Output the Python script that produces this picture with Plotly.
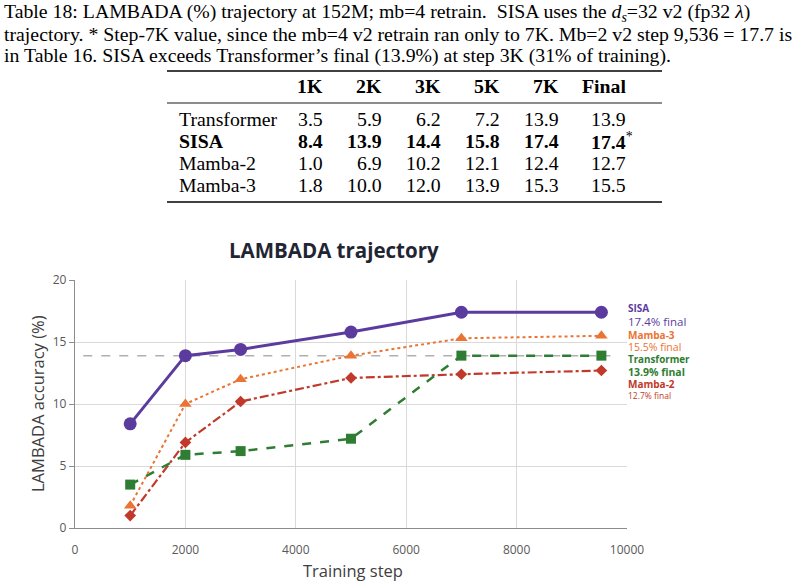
import plotly.graph_objects as go

# ---- data ----
steps = [1000, 2000, 3000, 5000, 7000, 9536]
sisa = [8.4, 13.9, 14.4, 15.8, 17.4, 17.4]
mamba3 = [1.8, 10.0, 12.0, 13.9, 15.3, 15.5]
transformer = [3.5, 5.9, 6.2, 7.2, 13.9, 13.9]
mamba2 = [1.0, 6.9, 10.2, 12.1, 12.4, 12.7]
ref_x = [150, 9700]
ref_y = [13.9, 13.9]

table_cols = ["1K", "2K", "3K", "5K", "7K", "Final"]
table_rows = ["Transformer", "SISA", "Mamba-2", "Mamba-3"]
table_vals = [
    ["3.5", "5.9", "6.2", "7.2", "13.9", "13.9"],
    ["8.4", "13.9", "14.4", "15.8", "17.4", "17.4*"],
    ["1.0", "6.9", "10.2", "12.1", "12.4", "12.7"],
    ["1.8", "10.0", "12.0", "13.9", "15.3", "15.5"],
]

x_ticks = [0, 2000, 4000, 6000, 8000, 10000]
y_ticks = [0, 5, 10, 15, 20]

C_SISA = "#5b3c9e"
C_M3 = "#ea7434"
C_TR = "#2e7d32"
C_M2 = "#c0392b"

W, H = 806, 586
L, R, T, B = 75, 627, 280, 528  # plot area pixels


def px(x):
    return (x - L) / (R - L)


def py(y):
    return (B - y) / (B - T)


fig = go.Figure()
fig.add_trace(go.Scatter(x=ref_x, y=ref_y, mode="lines",
                         line=dict(color="#b0b0b0", width=1.5, dash="dash"),
                         showlegend=False, hoverinfo="skip"))
fig.add_trace(go.Scatter(x=steps, y=mamba2, mode="lines+markers", name="Mamba-2",
                         line=dict(color=C_M2, width=2.2, dash="dashdot"),
                         marker=dict(symbol="diamond", size=9, color=C_M2)))
fig.add_trace(go.Scatter(x=steps, y=transformer, mode="lines+markers", name="Transformer",
                         line=dict(color=C_TR, width=2.5, dash="dash"),
                         marker=dict(symbol="square", size=10, color=C_TR)))
fig.add_trace(go.Scatter(x=steps, y=mamba3, mode="lines+markers", name="Mamba-3",
                         line=dict(color=C_M3, width=2, dash="dot"),
                         marker=dict(symbol="triangle-up", size=11, color=C_M3)))
fig.add_trace(go.Scatter(x=steps, y=sisa, mode="lines+markers", name="SISA",
                         line=dict(color=C_SISA, width=3),
                         marker=dict(symbol="circle", size=13, color=C_SISA)))

ann = []
serif = "Liberation Serif"
FS = 19.8
# caption
sp = " &nbsp;"
cap = [
    "Table 18: LAMBADA (%) trajectory at 152M; mb=4 retrain." + sp + "SISA uses the <i>d</i><sub><i>s</i></sub>=32 v2 (fp32 <i>λ</i>)",
    "trajectory. * Step-7K value, since the mb=4 v2 retrain ran only to 7K. Mb=2 v2 step 9,536 = 17.7 is",
    "in Table 16. SISA exceeds Transformer’s final (13.9%) at step 3K (31% of training).",
]
for i, line in enumerate(cap):
    ann.append(dict(x=px(2), y=py(12 + 21.5 * i), xref="paper", yref="paper",
                    text=line, showarrow=False, xanchor="left", yanchor="middle",
                    font=dict(family=serif, size=FS, color="black")))

# table
col_right = [325, 384, 443, 502, 561, 628]
row_y = [119, 141, 163, 185]
for j, c in enumerate(table_cols):
    ann.append(dict(x=px(col_right[j]), y=py(86), xref="paper", yref="paper",
                    text="<b>%s</b>" % c, showarrow=False, xanchor="right", yanchor="middle",
                    font=dict(family=serif, size=FS, color="black")))
for i, r in enumerate(table_rows):
    bold = r == "SISA"
    ann.append(dict(x=px(177), y=py(row_y[i]), xref="paper", yref="paper",
                    text=("<b>%s</b>" % r) if bold else r, showarrow=False,
                    xanchor="left", yanchor="middle",
                    font=dict(family=serif, size=FS, color="black")))
    for j, v in enumerate(table_vals[i]):
        t = v
        xr = col_right[j]
        if v.endswith("*"):
            t = "<b>%s</b><sup>*</sup>" % v[:-1]
            xr = col_right[j] + 7
        elif bold:
            t = "<b>%s</b>" % v
        ann.append(dict(x=px(xr), y=py(row_y[i]), xref="paper", yref="paper",
                        text=t, showarrow=False, xanchor="right", yanchor="middle",
                        font=dict(family=serif, size=FS, color="black")))

shapes = []
for yy, w in [(71, 1.6), (103, 0.9), (202, 1.6)]:
    shapes.append(dict(type="line", xref="paper", yref="paper",
                       x0=px(167), x1=px(662), y0=py(yy), y1=py(yy),
                       line=dict(color="black", width=w)))

# chart title
ann.append(dict(x=px(334), y=py(250), xref="paper", yref="paper",
                text="<b>LAMBADA trajectory</b>", showarrow=False,
                xanchor="center", yanchor="middle",
                font=dict(family="Open Sans", size=20.5, color="#1f2633")))

# axis titles
ann.append(dict(x=px(353), y=py(570), xref="paper", yref="paper",
                text="Training step", showarrow=False, xanchor="center", yanchor="middle",
                font=dict(family="Open Sans", size=16.5, color="#404040")))
ann.append(dict(x=px(37), y=py(404), xref="paper", yref="paper", textangle=-90,
                text="LAMBADA accuracy (%)", showarrow=False, xanchor="center", yanchor="middle",
                font=dict(family="Open Sans", size=16.5, color="#404040")))

# right-side labels
lab = [
    ("<b>SISA</b>", 308, C_SISA, 10),
    ("17.4% final", 321, C_SISA, 11.5),
    ("<b>Mamba-3</b>", 335, C_M3, 10),
    ("15.5% final", 347, C_M3, 10.5),
    ("<b>Transformer</b>", 359.5, C_TR, 9.8),
    ("<b>13.9% final</b>", 372, C_TR, 10.5),
    ("<b>Mamba-2</b>", 384, C_M2, 10),
    ("12.7% final", 395, C_M2, 8.5),
]
for t, yy, c, s in lab:
    ann.append(dict(x=px(626), y=py(yy), xref="paper", yref="paper", text=t,
                    showarrow=False, xanchor="left", yanchor="middle",
                    font=dict(family="Open Sans", size=s, color=c)))

fig.update_layout(
    width=W, height=H,
    margin=dict(l=L, r=W - R, t=T, b=H - B, pad=0, autoexpand=False),
    paper_bgcolor="white", plot_bgcolor="white",
    showlegend=False,
    annotations=ann, shapes=shapes,
    font=dict(family="Open Sans", color="#595959"),
    xaxis=dict(range=[0, 10000], tickvals=x_ticks, tickformat="d", showgrid=True,
               gridcolor="#d9d9d9", gridwidth=1.3, showline=True, linecolor="#8c8c8c",
               linewidth=1.3, ticks="", ticklabelstandoff=10, zeroline=False,
               automargin=False, tickfont=dict(size=12, color="#595959")),
    yaxis=dict(range=[0, 20], tickvals=y_ticks, showgrid=True, gridcolor="#d9d9d9",
               gridwidth=1.3, showline=True, linecolor="#8c8c8c", linewidth=1.3,
               ticks="outside", ticklen=5, tickcolor="#8c8c8c", zeroline=False,
               automargin=False, tickfont=dict(size=12, color="#595959")),
)

fig.write_html("out.html")
